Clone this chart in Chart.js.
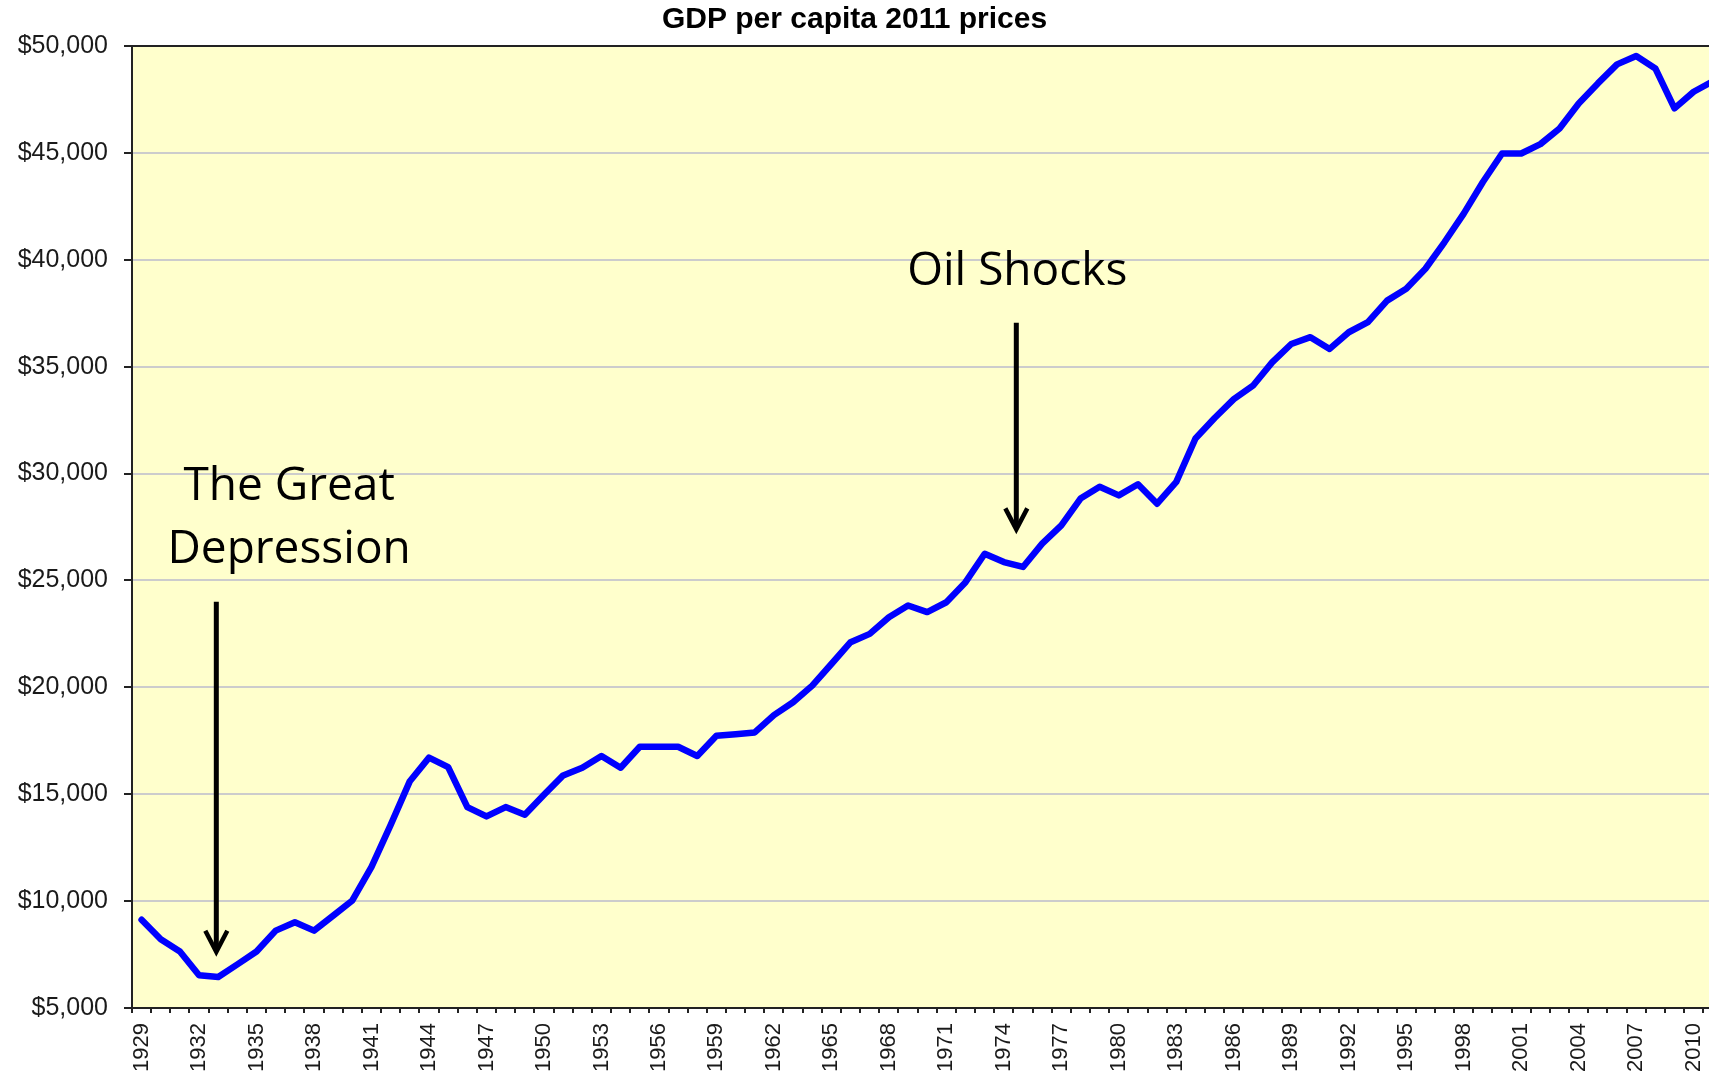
<!DOCTYPE html>
<html>
<head>
<meta charset="utf-8">
<script src="https://cdn.jsdelivr.net/npm/chart.js@4/dist/chart.umd.min.js"></script>
<style>
  html, body { margin: 0; padding: 0; background: #ffffff; overflow: hidden; width: 1709px; height: 1076px; }
  #wrap { position: relative; width: 1709px; height: 1076px; }
</style>
</head>
<body>
<div id="wrap"><canvas id="c" width="1709" height="1076"></canvas></div>
<script>
// ---- data ----
const chartTitle = 'GDP per capita 2011 prices';
const years = [
  1929, 1930, 1931, 1932, 1933, 1934, 1935, 1936, 1937, 1938,
  1939, 1940, 1941, 1942, 1943, 1944, 1945, 1946, 1947, 1948,
  1949, 1950, 1951, 1952, 1953, 1954, 1955, 1956, 1957, 1958,
  1959, 1960, 1961, 1962, 1963, 1964, 1965, 1966, 1967, 1968,
  1969, 1970, 1971, 1972, 1973, 1974, 1975, 1976, 1977, 1978,
  1979, 1980, 1981, 1982, 1983, 1984, 1985, 1986, 1987, 1988,
  1989, 1990, 1991, 1992, 1993, 1994, 1995, 1996, 1997, 1998,
  1999, 2000, 2001, 2002, 2003, 2004, 2005, 2006, 2007, 2008,
  2009, 2010, 2011
];
const gdpPerCapita = [
  9130, 8220, 7640, 6530, 6450, 7040, 7640, 8620, 9010, 8620,
  9320, 10030, 11600, 13570, 15610, 16710, 16270, 14400, 13960, 14400,
  14040, 14980, 15880, 16240, 16790, 16240, 17220, 17220, 17220, 16790,
  17740, 17810, 17890, 18700, 19300, 20080, 21090, 22110, 22500, 23280,
  23830, 23520, 23980, 24920, 26250, 25860, 25630, 26720, 27580, 28830,
  29380, 28980, 29500, 28590, 29610, 31640, 32600, 33480, 34110, 35200,
  36060, 36380, 35830, 36610, 37080, 38090, 38640, 39580, 40830, 42160,
  43640, 44970, 44970, 45410, 46140, 47310, 48250, 49140, 49530, 48950,
  47080, 47860, 48350
];
const xTickLabels = [
  1929, 1932, 1935, 1938, 1941, 1944, 1947, 1950, 1953, 1956, 1959, 1962, 1965, 1968,
  1971, 1974, 1977, 1980, 1983, 1986, 1989, 1992, 1995, 1998, 2001, 2004, 2007, 2010
];
const yTickValues = [5000, 10000, 15000, 20000, 25000, 30000, 35000, 40000, 45000, 50000];
const depressionText = ['The Great', 'Depression'];
const oilText = ['Oil Shocks'];

// visible x range: the original picture is cropped part-way through the 2011 slot
const xMin = 1928.5;
const xMax = 2010.8;

// ---- plugins ----
const plotFrame = {
  id: 'plotFrame',
  beforeDraw(chart) {
    const { ctx, chartArea: a } = chart;
    ctx.save();
    ctx.fillStyle = '#ffffcc';
    ctx.fillRect(a.left, a.top, a.right - a.left, a.bottom - a.top);
    ctx.restore();
  },
  beforeDatasetsDraw(chart) {
    const { ctx, chartArea: a } = chart;
    ctx.save();
    ctx.strokeStyle = '#222222';
    ctx.lineWidth = 2;
    ctx.beginPath();
    ctx.moveTo(a.left - 1, a.top);
    ctx.lineTo(a.right, a.top);
    ctx.stroke();
    ctx.restore();
  }
};

const annotate = {
  id: 'annotate',
  afterDatasetsDraw(chart, args, opts) {
    const { ctx } = chart;
    const xs = chart.scales.x, ys = chart.scales.y;
    ctx.save();
    ctx.fillStyle = '#000000';
    ctx.textAlign = 'center';
    ctx.textBaseline = 'alphabetic';
    ctx.font = opts.font;
    for (const t of opts.texts) {
      const x = xs.getPixelForValue(t.x);
      t.lines.forEach((line, i) => {
        ctx.fillText(line, x, ys.getPixelForValue(t.baselines[i]));
      });
    }
    ctx.strokeStyle = '#000000';
    for (const a of opts.arrows) {
      const x = xs.getPixelForValue(a.x);
      const y0 = ys.getPixelForValue(a.from);
      const y1 = ys.getPixelForValue(a.to);
      ctx.lineWidth = 5;
      ctx.lineCap = 'butt';
      ctx.beginPath();
      ctx.moveTo(x, y0);
      ctx.lineTo(x, y1 - 3);
      ctx.stroke();
      ctx.lineWidth = 4.5;
      ctx.lineJoin = 'miter';
      ctx.beginPath();
      ctx.moveTo(x - 11, y1 - 21);
      ctx.lineTo(x, y1);
      ctx.lineTo(x + 11, y1 - 21);
      ctx.stroke();
    }
    ctx.restore();
  }
};

const tickFont = "'Liberation Sans', Arial, sans-serif";

new Chart(document.getElementById('c'), {
  type: 'line',
  data: {
    datasets: [{
      data: years.map((yr, i) => ({ x: yr, y: gdpPerCapita[i] })),
      xAxisID: 'x',
      yAxisID: 'y',
      borderColor: '#0000ff',
      borderWidth: 6.5,
      pointRadius: 0,
      tension: 0,
      fill: false,
      borderJoinStyle: 'round',
      borderCapStyle: 'round'
    }]
  },
  options: {
    responsive: false,
    animation: false,
    layout: { autoPadding: false, padding: { left: 0, right: 0, top: 0, bottom: 0 } },
    plugins: {
      legend: { display: false },
      tooltip: { enabled: false },
      title: {
        display: true,
        text: chartTitle,
        color: '#000000',
        font: { family: tickFont, size: 30, weight: 'bold', lineHeight: 1.2 },
        padding: { top: 2, bottom: 8 }
      },
      annotate: {
        font: "46px 'Open Sans', 'Noto Sans', sans-serif",
        texts: [
          { lines: depressionText, x: 1936.7, baselines: [28760, 25820] },
          { lines: oilText, x: 1974.7, baselines: [38820] }
        ],
        arrows: [
          { x: 1932.9, from: 24000, to: 7630 },
          { x: 1974.65, from: 37060, to: 27390 }
        ]
      }
    },
    scales: {
      // tick marks between the yearly slots
      x: {
        type: 'linear',
        position: 'bottom',
        weight: 0,
        min: xMin,
        max: xMax,
        afterBuildTicks(scale) {
          scale.ticks = years.map(yr => ({ value: yr - 0.5 }));
        },
        grid: {
          drawOnChartArea: false,
          drawTicks: true,
          tickLength: 5,
          tickColor: '#222222',
          tickWidth: 2,
          lineWidth: 2
        },
        border: { display: true, color: '#222222', width: 2 },
        ticks: { display: false },
        afterFit(scale) { scale.height = 5; scale.paddingLeft = 0; scale.paddingRight = 0; }
      },
      // year labels, centred on each slot
      xLabels: {
        type: 'linear',
        position: 'bottom',
        weight: 1,
        min: xMin,
        max: xMax,
        afterBuildTicks(scale) {
          scale.ticks = xTickLabels.map(v => ({ value: v }));
        },
        grid: { display: false, drawTicks: false },
        border: { display: false },
        ticks: {
          autoSkip: false,
          minRotation: 90,
          maxRotation: 90,
          padding: 10,
          color: '#1a1a1a',
          font: { family: tickFont, size: 22 },
          callback(value) { return String(value); }
        },
        afterFit(scale) { scale.height = 63; scale.paddingLeft = 0; scale.paddingRight = 0; }
      },
      y: {
        min: yTickValues[0],
        max: yTickValues[yTickValues.length - 1],
        afterBuildTicks(scale) { scale.ticks = yTickValues.map(v => ({ value: v })); },
        ticks: {
          padding: 16,
          color: '#1a1a1a',
          font: { family: tickFont, size: 25 },
          callback(value) { return '$' + Number(value).toLocaleString('en-US'); }
        },
        grid: {
          color(ctx) {
            const v = ctx.tick ? ctx.tick.value : null;
            return (v === yTickValues[0] || v === yTickValues[yTickValues.length - 1]) ? 'rgba(0,0,0,0)' : '#cccccc';
          },
          lineWidth: 2,
          tickLength: 8,
          tickColor: '#222222',
          tickWidth: 2
        },
        border: { display: true, color: '#222222', width: 2 },
        afterFit(scale) { scale.width = 132; }
      }
    }
  },
  plugins: [plotFrame, annotate]
});
</script>
</body>
</html>
